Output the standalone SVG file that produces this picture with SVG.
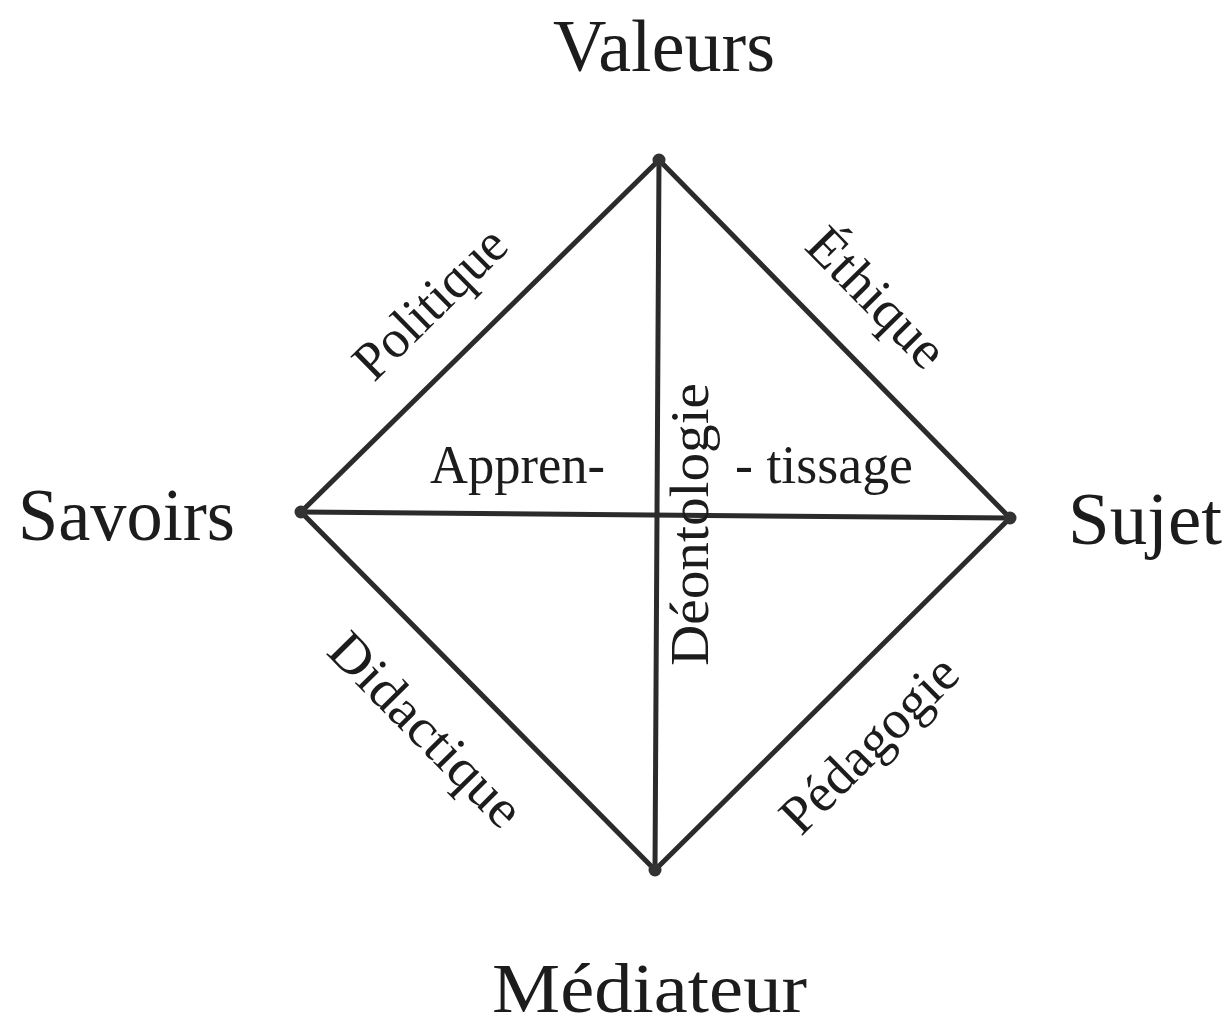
<svg xmlns="http://www.w3.org/2000/svg" width="1232" height="1028" viewBox="0 0 1232 1028">
<style>
.big{font-family:"Liberation Serif","Times New Roman",serif;font-size:74px;fill:#1c1c1c}
.mid{font-family:"Liberation Serif","Times New Roman",serif;font-size:54px;fill:#1c1c1c}
.edge{stroke:#2b2b2b;stroke-width:5;stroke-linecap:round;fill:none}
.dot{fill:#333}
</style>
<rect width="1232" height="1028" fill="#ffffff"/>
<g id="connectors">
<line class="edge" x1="659" y1="160" x2="301" y2="512"/>
<line class="edge" x1="659" y1="160" x2="1010" y2="518"/>
<line class="edge" x1="301" y1="512" x2="655" y2="870"/>
<line class="edge" x1="1010" y1="518" x2="655" y2="870"/>
<line class="edge" x1="659" y1="160" x2="655" y2="870"/>
<line class="edge" x1="301" y1="512" x2="1010" y2="518"/>
<text class="mid" transform="translate(374 383) rotate(-44.5)" textLength="192" lengthAdjust="spacingAndGlyphs">Politique</text>
<text class="mid" transform="translate(803 248) rotate(45.5)" textLength="174" lengthAdjust="spacingAndGlyphs">Éthique</text>
<text class="mid" transform="translate(325 653) rotate(45.3)" textLength="251" lengthAdjust="spacingAndGlyphs">Didactique</text>
<text class="mid" transform="translate(801 837) rotate(-44.8)" textLength="227" lengthAdjust="spacingAndGlyphs">Pédagogie</text>
<text class="mid" transform="translate(708 666) rotate(-90)" textLength="283" lengthAdjust="spacingAndGlyphs">Déontologie</text>
<text class="mid" x="430" y="483" textLength="175" lengthAdjust="spacingAndGlyphs">Appren-</text>
<text class="mid" x="735" y="483" textLength="178" lengthAdjust="spacingAndGlyphs">- tissage</text>
</g>
<g id="node-valeurs">
<circle class="dot" cx="659" cy="160" r="6.5"/>
<text class="big" x="553" y="71" textLength="222" lengthAdjust="spacingAndGlyphs">Valeurs</text>
</g>
<g id="node-savoirs">
<circle class="dot" cx="301" cy="512" r="6.5"/>
<text class="big" x="18" y="540" textLength="217" lengthAdjust="spacingAndGlyphs">Savoirs</text>
</g>
<g id="node-sujet">
<circle class="dot" cx="1010" cy="518" r="6.5"/>
<text class="big" x="1068" y="544" textLength="154" lengthAdjust="spacingAndGlyphs">Sujet</text>
</g>
<g id="node-mediateur">
<circle class="dot" cx="655" cy="870" r="6.5"/>
<text class="big" x="492" y="1012" style="font-size:70px" textLength="315" lengthAdjust="spacingAndGlyphs">Médiateur</text>
</g>
</svg>
